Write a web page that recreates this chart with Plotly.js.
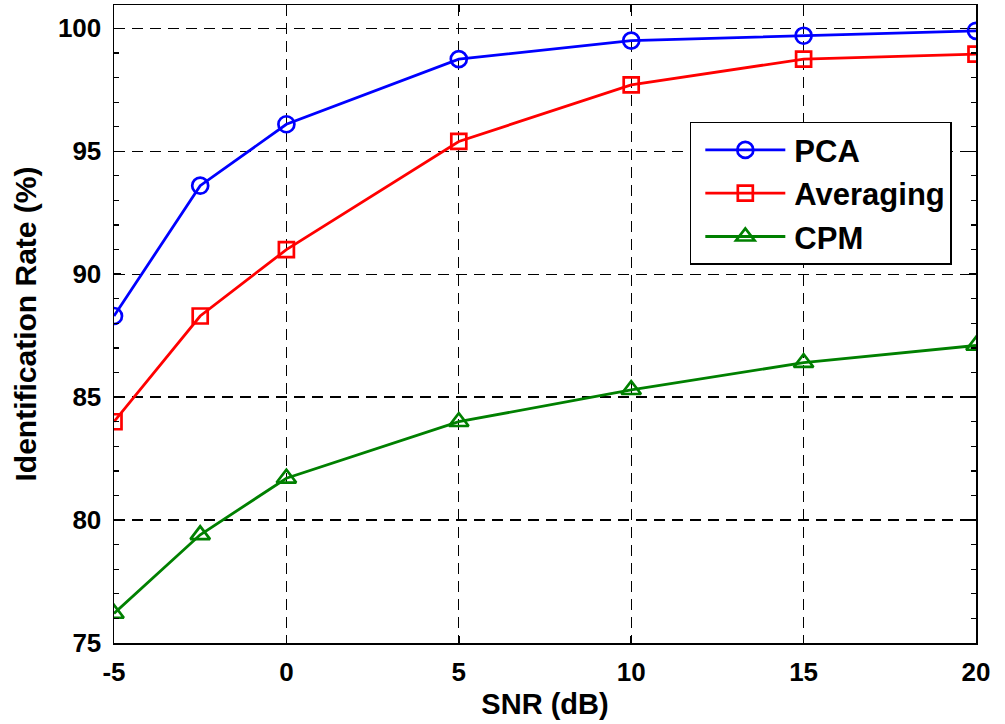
<!DOCTYPE html>
<html><head><meta charset="utf-8">
<script src="https://cdn.plot.ly/plotly-3.0.1.min.js"></script>
<style>body{margin:0;padding:0;background:#fff}#chart{width:1005px;height:724px}</style>
</head><body><div id="chart"></div>
<script>
const snr = [-5, -2.5, 0, 5, 10, 15, 20];
const pca = [88.3, 93.6, 96.1, 98.75, 99.5, 99.7, 99.9];
const averaging = [84.0, 88.3, 91.0, 95.4, 97.7, 98.75, 98.95];
const cpm = [76.2, 79.4, 81.7, 84.0, 85.3, 86.4, 87.1];
const xTicks = [-5, 0, 5, 10, 15, 20];
const yTicks = [75, 80, 85, 90, 95, 100];

const font = {family: 'Liberation Sans, Arial, sans-serif', color: '#000'};
function tr(name, y, color, symbol, size) {
  return {x: snr, y: y, name: name, type: 'scatter', mode: 'lines+markers',
    legendgroup: name,
    line: {color: color, width: 2.8},
    marker: {symbol: symbol, size: size, color: color, line: {color: color, width: 2.7}}};
}
const data = [
  tr('PCA', pca, '#0000ff', 'circle-open', 16),
  tr('Averaging', averaging, '#ff0000', 'square-open', 15),
  tr('CPM', cpm, '#008000', 'triangle-up-open', 17)
];
const axisCommon = {
  showline: true, linecolor: '#000', linewidth: 1.5, mirror: 'ticks',
  ticks: 'inside', ticklen: 7, tickcolor: '#000', tickwidth: 1.5,
  showgrid: true, gridcolor: '#000', gridwidth: 1.3, griddash: '11px,7px',
  zeroline: false,
  tickfont: Object.assign({}, font, {size: 26, weight: 'bold'})
};
const layout = {
  width: 1005, height: 724,
  margin: {l: 114, r: 29, t: 5, b: 81},
  paper_bgcolor: '#fff', plot_bgcolor: '#fff',
  font: font,
  xaxis: Object.assign({}, axisCommon, {
    range: [-5, 20], tickvals: xTicks, ticktext: xTicks.map(String),
    ticklabelstandoff: 5,
    title: {text: 'SNR (dB)', standoff: 8, font: Object.assign({}, font, {size: 29, weight: 'bold'})}
  }),
  yaxis: Object.assign({}, axisCommon, {
    range: [75, 100.95], tickvals: yTicks, ticktext: yTicks.map(String),
    ticklabelstandoff: 6,
    minor: {dtick: 1, ticks: 'inside', ticklen: 5, tickcolor: '#000', tickwidth: 1.2, showgrid: false},
    title: {text: 'Identification Rate (%)', standoff: 12, font: Object.assign({}, font, {size: 30, weight: 'bold'})}
  }),
  legend: {
    x: 0.668, y: 0.817, xanchor: 'left', yanchor: 'top',
    bgcolor: '#fff', bordercolor: '#000', borderwidth: 1.5,
    font: Object.assign({}, font, {size: 31, weight: 'bold'}),
    tracegroupgap: 0, itemwidth: 93
  },
  showlegend: true
};
function stretchLegend(gd) {
  gd.querySelectorAll('.legend .traces').forEach(function (g) {
    g.querySelectorAll('.legendlines path').forEach(function (p) { p.setAttribute('d', 'M14,0h80'); });
    g.querySelectorAll('.legendpoints path').forEach(function (p) { p.setAttribute('transform', 'translate(54,0)'); });
  });
}
Plotly.newPlot('chart', data, layout, {displayModeBar: false, staticPlot: true}).then(function (gd) {
  stretchLegend(gd);
  gd.on('plotly_afterplot', function () { stretchLegend(gd); });
});
</script></body></html>
